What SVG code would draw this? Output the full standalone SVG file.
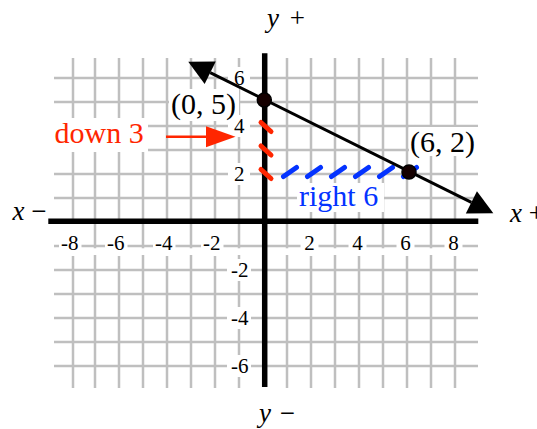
<svg xmlns="http://www.w3.org/2000/svg" width="537" height="429" viewBox="0 0 537 429">
<defs>
<style>
.grid{stroke:#bfbfbf;stroke-width:2.5;fill:none}
.bg{fill:#fff}
.tick{font-family:"Liberation Serif","Times New Roman",serif;font-size:21px;fill:#000}
.big{font-family:"Liberation Serif","Times New Roman",serif;font-size:30px}
.ax{font-family:"Liberation Serif","Times New Roman",serif;font-size:27px;fill:#000}
.axis{stroke:#000;stroke-width:5.5;fill:none}
.red{stroke:#ff2600;stroke-width:5;stroke-linecap:round;fill:none}
.blue{stroke:#0433ff;stroke-width:5;stroke-linecap:round;fill:none}
.dot{fill:#150000;stroke:#000;stroke-width:1.5}
</style>
<marker id="bigArrow" markerUnits="userSpaceOnUse" markerWidth="25" markerHeight="26" viewBox="0 -13 25 26" refX="0" refY="0" orient="auto-start-reverse" overflow="visible"><path d="M0,-12.5 L24.5,0 L0,12.5 Z" fill="#000"/></marker>
<marker id="redArrow" markerUnits="userSpaceOnUse" markerWidth="30" markerHeight="22" viewBox="0 -11 30 22" refX="0" refY="0" orient="auto" overflow="visible"><path d="M0,-10.5 L29.5,0 L0,10.5 Z" fill="#ff2600"/></marker>
</defs>
<rect width="537" height="429" fill="#fff"/>
<g id="grid">
<path class="grid" d="M73,58V388M95,58V388M119,58V388M143,58V388M167,58V388M191,58V388M215,58V388M239,58V388M287,58V388M311,58V388M335,58V388M359,58V388M383,58V388M407,58V388M431,58V388M455,58V388M54,78H478M54,102H478M54,126H478M54,150H478M54,174H478M54,198H478M54,246H478M54,270H478M54,294H478M54,318H478M54,342H478M54,366H478"/>
<rect class="bg" x="54" y="248.3" width="424" height="6.7"/>
</g>
<g id="ticks">
<rect class="bg" x="59" y="224" width="22.5" height="32"/>
<rect class="bg" x="105" y="224" width="22.5" height="32"/>
<rect class="bg" x="153" y="224" width="22.5" height="32"/>
<rect class="bg" x="201" y="224" width="22.5" height="32"/>
<rect class="bg" x="300.5" y="224" width="18" height="32"/>
<rect class="bg" x="348.5" y="224" width="18" height="32"/>
<rect class="bg" x="396.5" y="224" width="18" height="32"/>
<rect class="bg" x="444.5" y="224" width="18" height="32"/>
<rect class="bg" x="227" y="259" width="24" height="22"/>
<rect class="bg" x="227" y="307" width="24" height="22"/>
<rect class="bg" x="227" y="355" width="24" height="22"/>
<rect class="bg" x="228" y="67" width="22" height="22"/>
<rect class="bg" x="228" y="115" width="22" height="22"/>
<rect class="bg" x="228" y="163" width="22" height="22"/>
<g class="tick" text-anchor="end">
<text x="78.5" y="249.5">-8</text>
<text x="124.5" y="249.5">-6</text>
<text x="172.5" y="249.5">-4</text>
<text x="220.5" y="249.5">-2</text>
<text x="248.5" y="277">-2</text>
<text x="248.5" y="325">-4</text>
<text x="248.5" y="373">-6</text>
</g>
<g class="tick" text-anchor="middle">
<text x="309.5" y="249.5">2</text>
<text x="357.5" y="249.5">4</text>
<text x="405.5" y="249.5">6</text>
<text x="453.5" y="249.5">8</text>
<text x="239.3" y="85">6</text>
<text x="239.3" y="133">4</text>
<text x="239.3" y="181">2</text>
</g>
</g>
<g id="axes">
<path class="axis" d="M48.3,221.2H478.3M264.7,53.3V387"/>
<text class="ax" x="12.5" y="220"><tspan font-style="italic">x</tspan> −</text>
<text class="ax" x="510" y="221.5"><tspan font-style="italic">x</tspan> +</text>
<text class="ax" x="267" y="27"><tspan font-style="italic">y</tspan> <tspan dx="4">+</tspan></text>
<text class="ax" x="259" y="422"><tspan font-style="italic">y</tspan> <tspan dx="2">−</tspan></text>
</g>
<g id="label-down3">
<rect class="bg" x="50" y="118" width="98" height="34"/>
<text class="big" x="54.5" y="143.3" fill="#ff2600">down 3</text>
</g>
<g id="label-right6">
<rect class="bg" x="297" y="183" width="87" height="29"/>
<text class="big" x="299" y="206" fill="#0433ff">right 6</text>
</g>
<g id="connectors">
<g id="down-steps">
<path class="red" d="M261,122.5L271,131.5M261,146L271,155M261,169.5L271,178.5"/>
</g>
<g id="right-steps">
<path class="blue" d="M283.5,176.5L296.5,167.5M307.5,176.5L320.5,167.5M331.5,176.5L344.5,167.5M355.5,176.5L368.5,167.5M379.5,176.5L392.5,167.5M403.5,176.5L416.5,167.5"/>
</g>
<path id="down-arrow" d="M166,136.7H206" stroke="#ff2600" stroke-width="2.5" fill="none" marker-end="url(#redArrow)"/>
<path id="line" d="M210.2,72.7L471.4,202.4" stroke="#000" stroke-width="3" fill="none" marker-start="url(#bigArrow)" marker-end="url(#bigArrow)"/>
</g>
<g id="point-0-5">
<circle class="dot" cx="264.3" cy="100" r="7"/>
<rect class="bg" x="169" y="89" width="70" height="32"/>
<text class="big" x="171" y="113.5" fill="#000">(0, 5)</text>
</g>
<g id="point-6-2">
<circle class="dot" cx="409" cy="172" r="7"/>
<rect class="bg" x="409" y="127" width="71" height="29"/>
<text class="big" x="410" y="151.7" fill="#000">(6, 2)</text>
</g>
</svg>
